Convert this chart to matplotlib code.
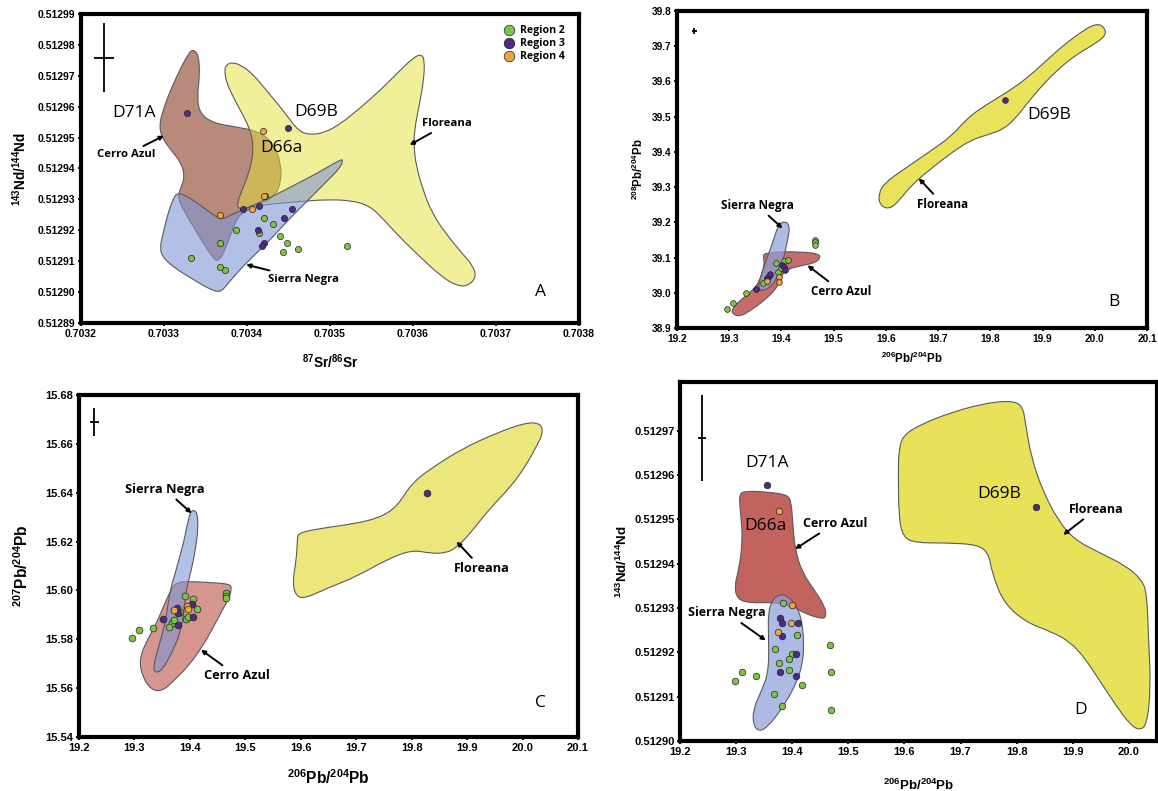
import numpy as np
import matplotlib
matplotlib.use("Agg")
import matplotlib.pyplot as plt
from matplotlib.path import Path
from matplotlib.patches import PathPatch
from matplotlib.colors import to_rgba
from matplotlib.ticker import FormatStrFormatter

plt.rcParams['font.family'] = ['Liberation Sans', 'DejaVu Sans']
plt.rcParams['mathtext.default'] = 'regular'

# ---------------- Panel A: 87Sr/86Sr vs 143Nd/144Nd ----------------
a_green_x = [0.703422, 0.703420, 0.703431, 0.703387, 0.703415, 0.703368, 0.703440,
             0.703448, 0.703462, 0.703444, 0.703521, 0.703333, 0.703367, 0.703373]
a_green_y = [0.512931, 0.512924, 0.512922, 0.512920, 0.512919, 0.512916, 0.512918,
             0.512916, 0.512914, 0.512913, 0.512915, 0.512911, 0.512908, 0.512907]
a_purple_x = [0.703328, 0.703450, 0.703395, 0.703414, 0.703454, 0.703445, 0.703413, 0.703420, 0.703418]
a_purple_y = [0.512958, 0.512953, 0.512927, 0.512928, 0.512927, 0.512924, 0.512920, 0.512916, 0.512915]
a_orange_x = [0.703419, 0.703420, 0.703406, 0.703368]
a_orange_y = [0.512952, 0.512931, 0.512927, 0.512925]

a_floreana_x = [0.703375, 0.703382, 0.703394, 0.703408, 0.703423, 0.703439, 0.703452, 0.703463,
                0.703476, 0.703494, 0.703514, 0.703536, 0.703561, 0.703583, 0.703601, 0.703610,
                0.703614, 0.703613, 0.703608, 0.703602, 0.703601, 0.703604, 0.703612, 0.703623,
                0.703639, 0.703659, 0.703673, 0.703676, 0.703665, 0.703652, 0.703634, 0.703610,
                0.703585, 0.703565, 0.703548, 0.703525, 0.703494, 0.703468, 0.703441, 0.703414,
                0.703390, 0.703388, 0.703396, 0.703405, 0.703408, 0.703404, 0.703394, 0.703383,
                0.703375, 0.703373]
a_floreana_y = [0.5129735, 0.5129744, 0.5129733, 0.5129703, 0.5129654, 0.5129603, 0.5129557, 0.5129520,
                0.5129509, 0.5129516, 0.5129547, 0.5129595, 0.5129654, 0.5129714, 0.5129760, 0.5129770,
                0.5129751, 0.5129687, 0.5129611, 0.5129530, 0.5129471, 0.5129407, 0.5129331, 0.5129256,
                0.5129191, 0.5129126, 0.5129083, 0.5129045, 0.5129019, 0.5129021, 0.5129051, 0.5129110,
                0.5129175, 0.5129234, 0.5129279, 0.5129297, 0.5129299, 0.5129294, 0.5129288, 0.5129280,
                0.5129266, 0.5129288, 0.5129342, 0.5129407, 0.5129471, 0.5129525, 0.5129579, 0.5129633,
                0.5129681, 0.5129719]
a_cerro_x = [0.703335, 0.703342, 0.703343, 0.703340, 0.703343, 0.703359, 0.703388, 0.703414,
             0.703432, 0.703441, 0.703441, 0.703432, 0.703405, 0.703390, 0.703381, 0.703372,
             0.703365, 0.703359, 0.703345, 0.703328, 0.703316, 0.703321, 0.703325, 0.703321,
             0.703310, 0.703299, 0.703294, 0.703299, 0.703308, 0.703321, 0.703330]
a_cerro_y = [0.5129786, 0.5129767, 0.5129697, 0.5129633, 0.5129579, 0.5129547, 0.5129534, 0.5129520,
             0.5129482, 0.5129417, 0.5129353, 0.5129304, 0.5129272, 0.5129250, 0.5129191, 0.5129126,
             0.5129099, 0.5129110, 0.5129169, 0.5129245, 0.5129304, 0.5129342, 0.5129374, 0.5129417,
             0.5129455, 0.5129493, 0.5129536, 0.5129590, 0.5129654, 0.5129730, 0.5129773]
a_sierra_x = [0.703316, 0.703328, 0.703343, 0.703359, 0.703370, 0.703381, 0.703396, 0.703423,
              0.703454, 0.703485, 0.703512, 0.703516, 0.703512, 0.703494, 0.703472, 0.703450,
              0.703428, 0.703405, 0.703388, 0.703376, 0.703368, 0.703356, 0.703339, 0.703316,
              0.703299, 0.703295, 0.703299, 0.703305, 0.703311]
a_sierra_y = [0.5129322, 0.5129310, 0.5129283, 0.5129250, 0.5129234, 0.5129250, 0.5129268, 0.5129299,
              0.5129342, 0.5129385, 0.5129428, 0.5129428, 0.5129401, 0.5129353, 0.5129293, 0.5129234,
              0.5129169, 0.5129110, 0.5129062, 0.5129024, 0.5128999, 0.5129008, 0.5129035, 0.5129072,
              0.5129110, 0.5129142, 0.5129191, 0.5129256, 0.5129301]

# ---------------- Panel B: 206Pb/204Pb vs 208Pb/204Pb ----------------
b_green_x = [19.295, 19.308, 19.333, 19.365, 19.390, 19.405, 19.413, 19.393, 19.399, 19.464, 19.465, 19.465]
b_green_y = [38.954, 38.971, 39.000, 39.028, 39.084, 39.089, 39.092, 39.059, 39.070, 39.150, 39.143, 39.136]
b_purple_x = [19.828, 19.351, 19.373, 19.377, 19.379, 19.402, 19.404, 19.406]
b_purple_y = [39.547, 39.012, 39.042, 39.049, 39.053, 39.080, 39.072, 39.065]
b_orange_x = [19.372, 19.395, 19.395]
b_orange_y = [39.034, 39.044, 39.030]

b_floreana_x = [19.606, 19.624, 19.649, 19.691, 19.727, 19.763, 19.798, 19.826, 19.848, 19.869,
                19.897, 19.926, 19.961, 20.004, 20.022, 20.018, 20.004, 19.983, 19.940, 19.905,
                19.869, 19.834, 19.791, 19.755, 19.727, 19.684, 19.635, 19.599, 19.586, 19.588]
b_floreana_y = [39.237, 39.259, 39.306, 39.358, 39.399, 39.434, 39.450, 39.465, 39.495, 39.535,
                39.585, 39.629, 39.673, 39.710, 39.733, 39.755, 39.764, 39.750, 39.703, 39.656,
                39.608, 39.571, 39.533, 39.495, 39.446, 39.401, 39.351, 39.314, 39.283, 39.249]
b_cerro_x = [19.368, 19.407, 19.450, 19.471, 19.475, 19.464, 19.429, 19.404, 19.397, 19.386,
             19.365, 19.343, 19.322, 19.308, 19.304, 19.322, 19.343, 19.358, 19.368, 19.365]
b_cerro_y = [39.113, 39.117, 39.115, 39.110, 39.100, 39.084, 39.075, 39.061, 39.032, 39.004,
             38.976, 38.952, 38.933, 38.938, 38.952, 38.980, 39.004, 39.032, 39.080, 39.103]
b_sierra_x = [19.404, 19.416, 19.413, 19.404, 19.397, 19.386, 19.372, 19.359, 19.356, 19.363,
              19.375, 19.386, 19.393]
b_sierra_y = [39.204, 39.193, 39.155, 39.098, 39.061, 39.028, 39.009, 39.006, 39.023, 39.061,
              39.108, 39.155, 39.188]

# ---------------- Panel C: 206Pb/204Pb vs 207Pb/204Pb ----------------
c_green_x = [19.296, 19.309, 19.334, 19.367, 19.363, 19.372, 19.383, 19.391, 19.393, 19.396,
             19.405, 19.413, 19.465, 19.466, 19.466]
c_green_y = [15.5807, 15.5836, 15.5848, 15.5866, 15.5850, 15.5880, 15.5910, 15.5975, 15.5883, 15.5890,
             15.5964, 15.5923, 15.5989, 15.5978, 15.5967]
c_purple_x = [19.827, 19.352, 19.377, 19.378, 19.378, 19.404, 19.406]
c_purple_y = [15.6400, 15.5884, 15.5927, 15.5907, 15.5859, 15.5944, 15.5893]
c_orange_x = [19.372, 19.395, 19.397]
c_orange_y = [15.5921, 15.5937, 15.5923]

c_floreana_x = [19.595, 19.628, 19.694, 19.741, 19.774, 19.800, 19.840, 19.893, 19.952, 20.005,
                20.033, 20.037, 20.025, 20.005, 19.979, 19.939, 19.906, 19.880, 19.860, 19.833,
                19.800, 19.754, 19.701, 19.648, 19.608, 19.592, 19.585, 19.592, 19.594]
c_floreana_y = [15.6234, 15.6251, 15.6272, 15.6296, 15.6343, 15.6439, 15.6507, 15.6582, 15.6643, 15.6687,
                15.6684, 15.6643, 15.6589, 15.6507, 15.6425, 15.6330, 15.6234, 15.6173, 15.6152, 15.6152,
                15.6166, 15.6125, 15.6057, 15.6009, 15.5968, 15.5975, 15.6030, 15.6125, 15.6207]
c_cerro_x = [19.373, 19.397, 19.436, 19.471, 19.476, 19.469, 19.459, 19.443, 19.423, 19.397,
             19.370, 19.350, 19.330, 19.314, 19.309, 19.320, 19.337, 19.350, 19.363]
c_cerro_y = [15.6030, 15.6037, 15.6032, 15.6027, 15.6009, 15.5962, 15.5921, 15.5852, 15.5771, 15.5689,
             15.5628, 15.5587, 15.5593, 15.5648, 15.5716, 15.5784, 15.5852, 15.5921, 15.5989]
c_sierra_x = [19.403, 19.413, 19.415, 19.411, 19.403, 19.393, 19.390, 19.383, 19.367, 19.350,
              19.337, 19.334, 19.344, 19.357, 19.363, 19.377, 19.390, 19.397]
c_sierra_y = [15.6330, 15.6323, 15.6261, 15.6180, 15.6084, 15.6002, 15.5921, 15.5825, 15.5743, 15.5673,
              15.5662, 15.5689, 15.5771, 15.5880, 15.5989, 15.6098, 15.6207, 15.6289]

# ---------------- Panel D: 206Pb/204Pb vs 143Nd/144Nd ----------------
d_green_x = [19.383, 19.409, 19.370, 19.399, 19.395, 19.376, 19.395, 19.298, 19.310, 19.336,
             19.417, 19.367, 19.382, 19.468, 19.469, 19.470]
d_green_y = [0.5129311, 0.5129240, 0.5129207, 0.5129197, 0.5129186, 0.5129176, 0.5129160, 0.5129136,
             0.5129156, 0.5129147, 0.5129127, 0.5129106, 0.5129080, 0.5129217, 0.5129156, 0.5129070]
d_purple_x = [19.355, 19.834, 19.378, 19.381, 19.410, 19.381, 19.407, 19.378, 19.406]
d_purple_y = [0.5129577, 0.5129527, 0.5129277, 0.5129267, 0.5129267, 0.5129237, 0.5129196, 0.5129156, 0.5129147]
d_orange_x = [19.377, 19.400, 19.398, 19.375]
d_orange_y = [0.5129518, 0.5129307, 0.5129267, 0.5129247]

d_floreana_x = [19.597, 19.630, 19.683, 19.737, 19.783, 19.810, 19.816, 19.826, 19.846, 19.873,
                19.903, 19.949, 19.995, 20.022, 20.032, 20.035, 20.039, 20.032, 20.019, 20.002,
                19.976, 19.949, 19.922, 19.896, 19.863, 19.816, 19.776, 19.756, 19.750, 19.730,
                19.677, 19.617, 19.597, 19.590, 19.589, 19.590]
d_floreana_y = [0.5129689, 0.5129715, 0.5129741, 0.5129760, 0.5129768, 0.5129760, 0.5129715, 0.5129640,
                0.5129566, 0.5129499, 0.5129454, 0.5129424, 0.5129395, 0.5129365, 0.5129335, 0.5129231,
                0.5129119, 0.5129037, 0.5129024, 0.5129037, 0.5129082, 0.5129134, 0.5129186, 0.5129223,
                0.5129246, 0.5129268, 0.5129313, 0.5129380, 0.5129424, 0.5129443, 0.5129447, 0.5129447,
                0.5129462, 0.5129506, 0.5129603, 0.5129655]
d_cerro_x = [19.305, 19.318, 19.351, 19.388, 19.398, 19.401, 19.405, 19.418, 19.438, 19.458,
             19.461, 19.451, 19.424, 19.398, 19.365, 19.325, 19.302, 19.297, 19.305, 19.312, 19.308]
d_cerro_y = [0.5129558, 0.5129564, 0.5129562, 0.5129557, 0.5129544, 0.5129491, 0.5129432, 0.5129380,
             0.5129343, 0.5129305, 0.5129279, 0.5129276, 0.5129287, 0.5129305, 0.5129313, 0.5129311,
             0.5129320, 0.5129350, 0.5129387, 0.5129454, 0.5129514]
d_sierra_x = [19.378, 19.391, 19.408, 19.418, 19.421, 19.418, 19.408, 19.395, 19.378, 19.358,
              19.341, 19.330, 19.331, 19.345, 19.358, 19.358, 19.357, 19.365]
d_sierra_y = [0.5129331, 0.5129328, 0.5129305, 0.5129268, 0.5129216, 0.5129171, 0.5129134, 0.5129101,
              0.5129067, 0.5129034, 0.5129021, 0.5129037, 0.5129074, 0.5129112, 0.5129156, 0.5129231,
              0.5129290, 0.5129320]

GREEN = '#7cc443'
PURPLE = '#4b2c88'
ORANGE = '#eba63c'
LABEL_FONT = ['Open Sans', 'DejaVu Sans']


def field(ax, xs, ys, face, alpha=1.0, z=1):
    # closed smooth outline: quadratic Bezier pieces between edge midpoints
    pts = np.column_stack([xs, ys])
    mids = (pts + np.roll(pts, -1, axis=0)) / 2
    verts = [mids[-1]]
    codes = [Path.MOVETO]
    for p, m in zip(pts, mids):
        verts += [p, m]
        codes += [Path.CURVE3, Path.CURVE3]
    verts.append(mids[-1])
    codes.append(Path.CLOSEPOLY)
    ax.add_patch(PathPatch(Path(verts, codes), facecolor=to_rgba(face, alpha),
                           edgecolor='#5a5a5a', lw=0.8, zorder=z))


def points(ax, gx, gy, px, py, ox, oy, size, labels=False):
    kw = dict(s=size, edgecolors='#222222', linewidths=0.5, zorder=5)
    ax.scatter(gx, gy, c=GREEN, label='Region 2' if labels else None, **kw)
    ax.scatter(px, py, c=PURPLE, label='Region 3' if labels else None, **kw)
    ax.scatter(ox, oy, c=ORANGE, label='Region 4' if labels else None, **kw)


def frame(ax, xlim, ylim, xticks, yticks, xfmt, yfmt, size):
    ax.set_xlim(xlim)
    ax.set_ylim(ylim)
    ax.set_xticks(xticks)
    ax.set_yticks(yticks)
    ax.xaxis.set_major_formatter(FormatStrFormatter(xfmt))
    ax.yaxis.set_major_formatter(FormatStrFormatter(yfmt))
    for sp in ax.spines.values():
        sp.set_linewidth(3)
    ax.tick_params(direction='out', length=2.5, width=1.3, pad=1.5, labelsize=size)
    for lab in ax.get_xticklabels() + ax.get_yticklabels():
        lab.set_fontweight('bold')


def labels(ax, xl, yl, size, xpos, ypos):
    ax.set_xlabel(xl, fontsize=size, fontweight='bold', va='center')
    ax.set_ylabel(yl, fontsize=size, fontweight='bold', va='center')
    ax.xaxis.set_label_coords(0.5, xpos)
    ax.yaxis.set_label_coords(ypos, 0.5)


def callout(ax, text, xy, xytext, size):
    ax.annotate(text, xy=xy, xytext=xytext, ha='center', va='center',
                fontsize=size, fontweight='bold', family=LABEL_FONT, zorder=6,
                arrowprops=dict(arrowstyle='-|>', color='k', lw=1.4, mutation_scale=6,
                                shrinkA=1, shrinkB=0))


def tag(ax, text, x, y, size=12.5):
    ax.text(x, y, text, ha='center', va='center', fontsize=size, family=LABEL_FONT, zorder=6)


def cross(ax, x, y, xe, ye):
    ax.errorbar([x], [y], xerr=[xe], yerr=[ye], fmt='none', ecolor='k', elinewidth=1.3,
                capsize=0, zorder=6)


fig = plt.figure(figsize=(11.58, 7.91), dpi=100)
ax_a = fig.add_axes([0.0699, 0.5917, 0.4301, 0.3906])
ax_b = fig.add_axes([0.5846, 0.5853, 0.4059, 0.4008])
ax_c = fig.add_axes([0.0682, 0.0683, 0.4309, 0.4324])
ax_d = fig.add_axes([0.5872, 0.0632, 0.4119, 0.4539])

# ---- A ----
field(ax_a, a_cerro_x, a_cerro_y, '#b88a7c', 1.0, 1)
field(ax_a, a_floreana_x, a_floreana_y, '#e7e137', 0.5, 2)
field(ax_a, a_sierra_x, a_sierra_y, '#8096d5', 0.6, 3)
points(ax_a, a_green_x, a_green_y, a_purple_x, a_purple_y, a_orange_x, a_orange_y, 20, labels=True)
frame(ax_a, (0.7032, 0.7038), (0.51289, 0.51299),
      np.round(np.arange(0.7032, 0.70381, 0.0001), 4),
      np.round(np.arange(0.51289, 0.512991, 0.00001), 5), '%.4f', '%.5f', 7.5)
labels(ax_a, r'$^{87}$Sr/$^{86}$Sr', r'$^{143}$Nd/$^{144}$Nd', 9.8, -0.125, -0.122)
cross(ax_a, 0.703228, 0.5129759, 0.000012, 0.0000112)
tag(ax_a, 'D71A', 0.703264, 0.5129579)
tag(ax_a, 'D69B', 0.703483, 0.5129584)
tag(ax_a, 'D66a', 0.703441, 0.5129466)
tag(ax_a, 'A', 0.703754, 0.5128999)
callout(ax_a, 'Cerro Azul', (0.703300, 0.5129506), (0.703254, 0.5129444), 8.2)
callout(ax_a, 'Floreana', (0.703596, 0.5129476), (0.703641, 0.5129544), 8.2)
callout(ax_a, 'Sierra Negra', (0.703399, 0.5129089), (0.703468, 0.5129042), 8.2)
ax_a.legend(loc='upper right', bbox_to_anchor=(0.985, 0.985), frameon=False, markerscale=1.7,
            handletextpad=0.1, labelspacing=0.2, borderaxespad=0.2,
            prop=dict(family=LABEL_FONT, weight='bold', size=7.6))

# ---- B ----
field(ax_b, b_floreana_x, b_floreana_y, '#e8e35a', 1.0, 1)
field(ax_b, b_cerro_x, b_cerro_y, '#c86b6b', 1.0, 2)
field(ax_b, b_sierra_x, b_sierra_y, '#8da0da', 0.72, 3)
points(ax_b, b_green_x, b_green_y, b_purple_x, b_purple_y, b_orange_x, b_orange_y, 17)
frame(ax_b, (19.2, 20.1), (38.9, 39.8), np.round(np.arange(19.2, 20.11, 0.1), 1),
      np.round(np.arange(38.9, 39.81, 0.1), 1), '%.1f', '%.1f', 7.3)
labels(ax_b, r'$^{206}$Pb/$^{204}$Pb', r'$^{208}$Pb/$^{204}$Pb', 8.3, -0.095, -0.083)
cross(ax_b, 19.233, 39.743, 0.005, 0.0075)
tag(ax_b, 'D69B', 19.913, 39.504)
tag(ax_b, 'B', 20.037, 38.974)
callout(ax_b, 'Sierra Negra', (19.402, 39.183), (19.354, 39.248), 8.5)
callout(ax_b, 'Floreana', (19.663, 39.325), (19.709, 39.252), 8.5)
callout(ax_b, 'Cerro Azul', (19.450, 39.078), (19.515, 39.004), 8.5)

# ---- C ----
field(ax_c, c_floreana_x, c_floreana_y, '#ebe77c', 1.0, 1)
field(ax_c, c_cerro_x, c_cerro_y, '#d5968f', 1.0, 2)
field(ax_c, c_sierra_x, c_sierra_y, '#8096d5', 0.6, 3)
points(ax_c, c_green_x, c_green_y, c_purple_x, c_purple_y, c_orange_x, c_orange_y, 24)
frame(ax_c, (19.2, 20.1), (15.54, 15.68), np.round(np.arange(19.2, 20.11, 0.1), 1),
      np.round(np.arange(15.54, 15.681, 0.02), 2), '%.1f', '%.2f', 8)
labels(ax_c, r'$^{206}$Pb/$^{204}$Pb', r'$^{207}$Pb/$^{204}$Pb', 11.2, -0.12, -0.114)
cross(ax_c, 19.228, 15.669, 0.0083, 0.0057)
tag(ax_c, 'C', 20.032, 15.5539)
callout(ax_c, 'Sierra Negra', (19.403, 15.6316), (19.355, 15.6414), 9.2)
callout(ax_c, 'Cerro Azul', (19.420, 15.5757), (19.484, 15.5652), 9.2)
callout(ax_c, 'Floreana', (19.881, 15.6200), (19.926, 15.6091), 9.2)

# ---- D ----
field(ax_d, d_floreana_x, d_floreana_y, '#e8e25a', 1.0, 1)
field(ax_d, d_cerro_x, d_cerro_y, '#c2635f', 1.0, 2)
field(ax_d, d_sierra_x, d_sierra_y, '#8da0da', 0.72, 3)
points(ax_d, d_green_x, d_green_y, d_purple_x, d_purple_y, d_orange_x, d_orange_y, 22)
frame(ax_d, (19.2, 20.05), (0.51290, 0.512981), np.round(np.arange(19.2, 20.01, 0.1), 1),
      np.round(np.arange(0.51290, 0.512971, 0.00001), 5), '%.1f', '%.5f', 8)
labels(ax_d, r'$^{206}$Pb/$^{204}$Pb', r'$^{143}$Nd/$^{144}$Nd', 9.6, -0.123, -0.12)
cross(ax_d, 19.239, 0.5129684, 0.0066, 0.0000097)
tag(ax_d, 'D71A', 19.355, 0.5129627)
tag(ax_d, 'D66a', 19.353, 0.5129486)
tag(ax_d, 'D69B', 19.768, 0.5129557)
tag(ax_d, 'D', 19.914, 0.5129069)
callout(ax_d, 'Cerro Azul', (19.405, 0.5129433), (19.476, 0.5129491), 9)
callout(ax_d, 'Floreana', (19.883, 0.5129465), (19.942, 0.5129523), 9)
callout(ax_d, 'Sierra Negra', (19.353, 0.5129227), (19.284, 0.5129289), 9)

fig.savefig('out.png', dpi=100)
